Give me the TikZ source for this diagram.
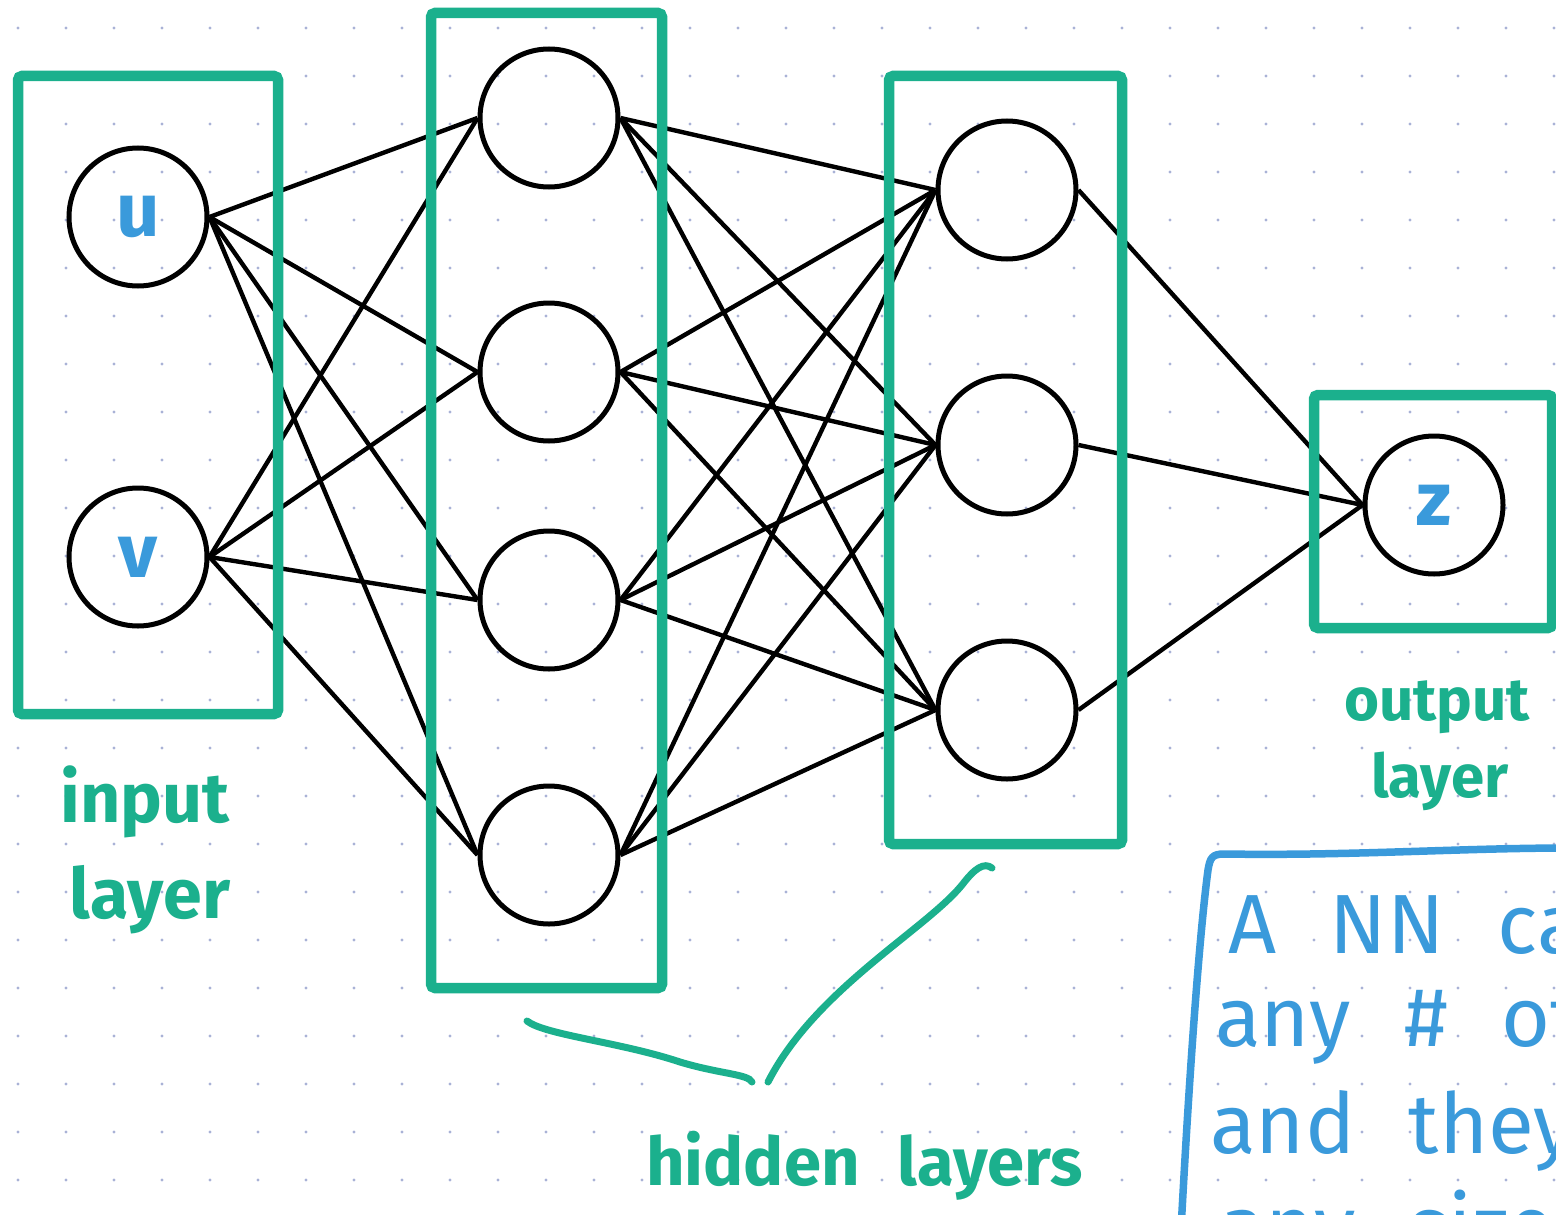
\documentclass[tikz,border=0pt]{standalone}
\usepackage{fontspec}
\setmainfont{Fira Sans}
\newfontfamily\handfont{Fira Sans}[WordSpace=2.4]
\usetikzlibrary{positioning}

\definecolor{layergreen}{HTML}{1BB08D}
\definecolor{noteblue}{HTML}{3A9ADB}
\definecolor{dotgray}{HTML}{A9B2D6}

\begin{document}
\begin{tikzpicture}[
  x=1pt, y=-1pt,
  neuron/.style={
    draw, circle, line width=5pt,
    minimum size=138pt, inner sep=0pt,
    text=noteblue, font=\handfont\bfseries\fontsize{76}{76}\selectfont,
  },
  layerbox/.style={
    draw=layergreen, line width=10.5pt, rounded corners=4pt,
    rectangle, inner sep=0pt,
  },
  wire/.style={line width=4.4pt, black},
  hand/.style={
    text=layergreen, inner sep=0pt, anchor=base,
    font=\handfont\bfseries\fontsize{70}{70}\selectfont,
  },
  notetext/.style={
    text=noteblue, inner sep=0pt, anchor=base west,
    font=\handfont\fontsize{84}{84}\selectfont,
  },
  bracket/.style={draw=layergreen, line width=7pt, line cap=round},
  note/.style={draw=noteblue, line width=7.5pt, line cap=round},
]

\useasboundingbox (0,0) rectangle (1556,1215);

% dotted paper
\foreach \gx in {18,66,...,1554}
  \foreach \gy in {28,76,...,1180}
    \fill[dotgray] (\gx,\gy) circle (1.7pt);

% neurons
\node[neuron] (u) at (138,217) {u};
\node[neuron] (v) at (138,557) {v};

\node[neuron] (a1) at (549,118) {};
\node[neuron] (a2) at (549,372) {};
\node[neuron] (a3) at (549,600) {};
\node[neuron] (a4) at (549,855) {};

\node[neuron] (b1) at (1007,190) {};
\node[neuron] (b2) at (1007,445) {};
\node[neuron] (b3) at (1007,710) {};

\node[neuron] (z) at (1434,505) {z};

% weights
\foreach \i in {u,v}
  \foreach \j in {a1,a2,a3,a4}
    \draw[wire] (\i.east) -- (\j.west);
\foreach \i in {a1,a2,a3,a4}
  \foreach \j in {b1,b2,b3}
    \draw[wire] (\i.east) -- (\j.west);
\foreach \i in {b1,b2,b3}
  \draw[wire] (\i.east) -- (z.west);

% layer boxes
\node[layerbox, minimum width=260pt, minimum height=638pt] (inbox) at (148,395) {};
\node[layerbox, minimum width=231pt, minimum height=975pt] (hid1box) at (546.5,500.5) {};
\node[layerbox, minimum width=233pt, minimum height=768pt] (hid2box) at (1005.5,460) {};
\node[layerbox, minimum width=238pt, minimum height=233pt] (outbox) at (1433,511.5) {};

% labels
\node[hand] (inlab1) at (145,822) {input};
\node[hand] (inlab2) at (150,918) {layer};
\node[hand, font=\handfont\bfseries\fontsize{60}{60}\selectfont] (outlab1) at (1437,720) {output};
\node[hand, font=\handfont\bfseries\fontsize{60}{60}\selectfont] (outlab2) at (1440,797) {layer};
\node[hand, anchor=base west, font=\handfont\bfseries\fontsize{67}{67}\selectfont] (hidlab) at (646,1185) {hidden layers};

% brace strokes under the hidden layers
\draw[bracket] (527,1021) .. controls (545,1035) and (620,1042) .. (680,1062)
  .. controls (720,1074) and (748,1074) .. (752,1082);
\draw[bracket] (992,868) .. controls (984,862) and (975,868) .. (962,885)
  .. controls (925,930) and (815,990) .. (768,1082);

% note
\draw[note] (1181,1230) .. controls (1190,1060) and (1200,930) .. (1208,870)
  .. controls (1210,858) and (1212,854) .. (1224,854)
  .. controls (1350,856) and (1460,848) .. (1570,848);
\node[notetext] (note1) at (1228,953) {A NN can};
\node[notetext] (note2) at (1215,1046) {any \# of};
\node[notetext] (note3) at (1210,1153) {and they};
\node[notetext] (note4) at (1220,1255) {any size};

\end{tikzpicture}
\end{document}
